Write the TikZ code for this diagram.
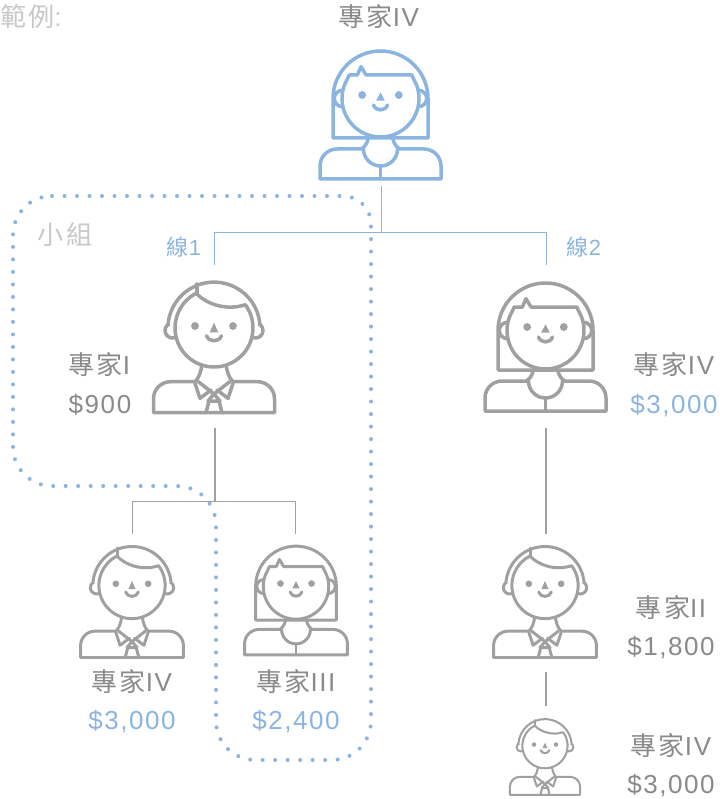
\documentclass[tikz,border=0pt]{standalone}
\usepackage{fontspec}
\setmainfont[LetterSpace=6]{Liberation Sans}
\newfontfamily\cjk[LetterSpace=8]{Noto Sans CJK TC}
\definecolor{avblue}{HTML}{8BB5E0}
\definecolor{avgrey}{HTML}{A0A0A0}
\definecolor{txgrey}{HTML}{8A8A8A}
\definecolor{txlight}{HTML}{C8C8C8}
\tikzset{
  x=1pt,y=1pt,
  avatar/.style={scale=#1,line width=3.5pt*#1,line join=round,line cap=round},
  blueconn/.style={line width=0.9pt,draw=avblue},
  greyconn/.style={line width=1.1pt,draw=avgrey},
  groupline/.style={draw=avblue,line width=4pt,line cap=round,dash pattern=on 0pt off 12.5pt},
  label/.style={inner sep=0pt,anchor=base,text=txgrey,font=\fontsize{26}{30}\selectfont},
  bluelabel/.style={label,text=avblue},
  smalllabel/.style={label,text=avblue,font=\fontsize{22}{26}\selectfont},
  lightlabel/.style={label,text=txlight},
  pics/man/.style={code={
    % body
    \draw (-12,-36) .. controls (-13,-44) and (-15,-50) .. (-19,-53.7) -- (-43.5,-53.7)
      arc[start angle=90,end angle=180,radius=17] -- (-60.5,-84.7) -- (60.5,-84.7) -- (60.5,-70.7)
      arc[start angle=0,end angle=90,radius=17] -- (19,-53.7) .. controls (15,-50) and (13,-44) .. (12,-36);
    % collar and tie
    \draw (-15.7,-53.7) -- (0,-66) -- (15.7,-53.7);
    \draw (-19,-55.3) -- (-14,-70.3) -- (-3,-62);
    \draw (19,-55.3) -- (14,-70.3) -- (3,-62);
    \draw (0,-66) -- (-6,-73) -- (6,-73) -- cycle;
    \draw (-5,-73) -- (-8,-84.7);
    \draw (5,-73) -- (8,-84.7);
    % ears and hair
    \draw[fill=white] (-41.5,-2.5) circle[radius=7.5];
    \draw[fill=white] (41.5,-2.5) circle[radius=7.5];
    \fill[white] (-46,3) arc[start angle=176,end angle=4,radius=46.1] -- cycle;
    \draw (-46,3) arc[start angle=176,end angle=4,radius=46.1];
    % face
    \draw[fill=white] (36.6:39) arc[start angle=36.6,end angle=-243,radius=39]
      .. controls (-8,24) and (12,17) .. cycle;
    \draw (-17.2,34.5) -- (-17.2,44);
    % features
    \fill (-19,2) circle[radius=3.9];
    \fill (19,2) circle[radius=3.9];
    \fill (0,5.2) -- (-4.3,-4.3) -- (4.3,-4.3) -- cycle;
    \draw (-7.5,-7.7) .. controls (-5,-14.5) and (5,-14.5) .. (7.5,-7.7);
  }},
  pics/woman/.style={code={
    % body
    \draw (-12,-36) .. controls (-12,-42) and (-14,-47) .. (-19,-50.5) -- (-43.5,-50.5)
      arc[start angle=90,end angle=180,radius=17] -- (-60.5,-80.5) -- (60.5,-80.5) -- (60.5,-67.5)
      arc[start angle=0,end angle=90,radius=17] -- (19,-50.5) .. controls (14,-47) and (12,-42) .. (12,-36);
    \draw (-17,-50.5) arc[start angle=180,end angle=360,radius=17];
    \draw (0,-67.5) -- (0,-80.5);
    % hair and ears
    \draw[fill=white] (-47.5,-39.5) -- (-47.5,0) arc[start angle=180,end angle=0,radius=47.5] -- (47.5,-39.5)
      -- cycle;
    \draw[fill=white] (-38,0) circle[radius=8.2];
    \draw[fill=white] (38,0) circle[radius=8.2];
    % face
    \draw[fill=white] (20.5:38.5) arc[start angle=20.5,end angle=-200.5,radius=38.5]
      -- (-31.2,23.5) -- (-23.2,23.5) -- (-19.5,31.8) -- (-14.5,23.5) -- (31.2,23.5) -- cycle;
    % features
    \fill (-18.3,3.5) circle[radius=3.9];
    \fill (18.3,3.5) circle[radius=3.9];
    \fill (0,6.2) -- (-4.3,-2.2) -- (4.3,-2.2) -- cycle;
    \draw (-7,-6.5) .. controls (-5,-13) and (5,-13) .. (7,-6.5);
  }},
}
\begin{document}
\begin{tikzpicture}[x=1pt,y=1pt]
\useasboundingbox (0,0) rectangle (719,-799);
\fill[white] (0,0) rectangle (719,-799);

% connector anchors
\coordinate (rootdown) at (381,-186);
\coordinate (rootjoin) at (381,-232);
\coordinate (leftjoin) at (214,-232);
\coordinate (rightjoin) at (546,-232);
\coordinate (lineonetop) at (214,-265);
\coordinate (linetwotop) at (546,-265);
\coordinate (expIdown) at (215,-428);
\coordinate (expIjoin) at (215,-501.5);
\coordinate (leftbar) at (132.3,-501.5);
\coordinate (rightbar) at (295.7,-501.5);
\coordinate (expIVtop) at (132.3,-534);
\coordinate (expIIItop) at (295.7,-534);
\coordinate (rightdown) at (546,-428);
\coordinate (expIItop) at (546,-534);
\coordinate (expIIdown) at (546,-672);
\coordinate (lasttop) at (546,-706);

% connectors
\draw[blueconn] (rootdown) -- (rootjoin);
\draw[blueconn] (lineonetop) -- (leftjoin) -- (rightjoin) -- (linetwotop);
\draw[greyconn] (expIdown) -- (expIjoin);
\draw[greyconn] (expIVtop) -- (leftbar) -- (rightbar) -- (expIIItop);
\draw[greyconn] (rightdown) -- (expIItop);
\draw[greyconn] (expIIdown) -- (lasttop);

% group outline
\draw[groupline] (52,-196) -- (343,-196) arc[start angle=90,end angle=0,radius=28]
  -- (371,-721) arc[start angle=0,end angle=-90,radius=39]
  -- (255,-760) arc[start angle=-90,end angle=-180,radius=39]
  -- (216,-525) arc[start angle=0,end angle=90,radius=39]
  -- (52,-486) arc[start angle=270,end angle=180,radius=39]
  -- (13,-235) arc[start angle=180,end angle=90,radius=39];

% avatars
\pic[avatar=1,color=avblue] at (380.5,-98.5) {woman};
\pic[avatar=1,color=avgrey] at (214,-328) {man};
\pic[avatar=1,color=avgrey] at (545.5,-330.5) {woman};
\pic[avatar=0.85,color=avgrey] at (132,-585.5) {man};
\pic[avatar=0.85,color=avgrey] at (296,-586.5) {woman};
\pic[avatar=0.85,color=avgrey] at (545,-585.5) {man};
\pic[avatar=0.58,color=avgrey] at (545,-745.7) {man};

% labels
\node[lightlabel,anchor=base west] (example) at (0,-27) {{\cjk 範例}:};
\node[label] (toplabel) at (379,-27) {{\cjk 專家}IV};
\node[lightlabel] (group) at (65,-244) {{\cjk 小組}};
\node[smalllabel] (lineone) at (184,-256) {{\cjk 線}1};
\node[smalllabel] (linetwo) at (584,-256) {{\cjk 線}2};
\node[label] (a1) at (99.5,-374) {{\cjk 專家}I};
\node[label] (a2) at (100,-413) {\$900};
\node[label] (b1) at (674,-374) {{\cjk 專家}IV};
\node[bluelabel] (b2) at (674,-413) {\$3,000};
\node[label] (c1) at (132,-691) {{\cjk 專家}IV};
\node[bluelabel] (c2) at (132,-729) {\$3,000};
\node[label] (d1) at (296,-691) {{\cjk 專家}III};
\node[bluelabel] (d2) at (296,-729) {\$2,400};
\node[label] (e1) at (671,-617) {{\cjk 專家}II};
\node[label] (e2) at (671,-655) {\$1,800};
\node[label] (f1) at (671,-755) {{\cjk 專家}IV};
\node[label] (f2) at (671,-793) {\$3,000};
\end{tikzpicture}
\end{document}
